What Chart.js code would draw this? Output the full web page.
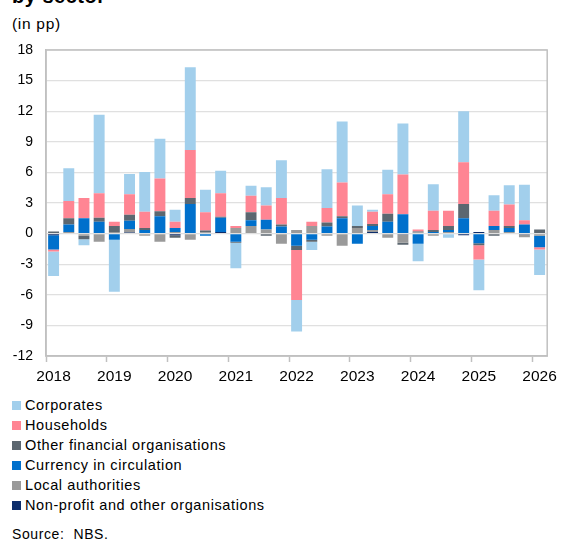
<!DOCTYPE html>
<html>
<head>
<meta charset="utf-8">
<script src="https://cdn.jsdelivr.net/npm/chart.js@4.4.1/dist/chart.umd.min.js"></script>
<style>
  body { margin: 0; background: #fff; font-family: "Liberation Sans", Arial, sans-serif; color: #000; }
  #wrap { position: relative; width: 562px; height: 541px; overflow: hidden; }
  #titulo { position: absolute; left: 12px; top: -14px; font-size: 20px; line-height: 20px; font-weight: bold; letter-spacing: 0.5px; }
  #unidad { position: absolute; left: 12px; top: 15px; font-size: 15.5px; letter-spacing: 0.7px; }
  #caja { position: absolute; left: 0; top: 0; width: 562px; height: 388px; }
  #leyenda { position: absolute; left: 12px; top: 395px; font-size: 14.5px; letter-spacing: 0.6px; }
  .item { height: 20px; line-height: 20px; white-space: nowrap; }
  .item span { display: inline-block; width: 9px; height: 9px; margin-right: 4px; vertical-align: 0px; }
  #fuente { position: absolute; left: 12px; top: 526px; font-size: 14px; letter-spacing: 0.6px; }
</style>
</head>
<body>
<div id="wrap">
  <div id="titulo">by sector</div>
  <div id="unidad">(in pp)</div>
  <div id="caja"><canvas id="grafica"></canvas></div>
  <div id="leyenda"></div>
  <div id="fuente">Source:&nbsp; NBS.</div>
</div>
<script>
// quarters 2018Q1 .. 2026Q1
const trimestres = [];
for (let a = 2018; a <= 2026; a++) {
    for (let q = 1; q <= 4; q++) {
        if (a === 2026 && q > 1) break;
        trimestres.push(a + "Q" + q);
    }
}

const corporates = [-2.4, 3.2, -0.6, 7.7, -5.1, 2.0, 3.9, 3.9, 1.2, 8.1, 2.2, 2.2, -2.5, 1.0, 1.8, 3.7,
    -3.1, -0.8, 3.8, 6.0, 2.0, 0.2, 2.4, 5.0, -1.7, 2.6, -0.4, 5.0, -3.0, 1.5, 1.9, 3.5, -2.5];
const households = [-0.2, 1.7, 2.0, 2.4, 0.4, 2.0, 1.6, 3.2, 0.6, 4.7, 1.8, 2.3, 0.2, 1.6, 1.4, 2.6,
    -4.9, 0.4, 1.4, 3.3, 0, 1.2, 1.9, 3.9, 0.2, 1.9, 1.5, 4.1, -1.4, 1.5, 2.1, 0.4, -0.2];
const otrasFin = [0.2, 0.6, -0.35, 0.4, 0.6, 0.6, 0.2, 0.5, -0.25, 0.6, 0.2, 0.1, -0.1, 0.8, -0.2, 0.2,
    -0.4, -0.2, 0.4, 0.2, 0.2, 0.2, 0.8, -0.2, 0.1, 0.2, 0.4, 1.4, -0.2, -0.2, 0.2, 0, 0.4];
const currency = [-1.4, 0.75, 1.5, 1.15, -0.6, 0.8, 0.35, 1.7, 0.4, 2.9, -0.2, 1.4, -0.8, 0.55, 0.95, 0.7,
    -1.2, -0.6, 0.7, 1.5, -1.0, 0.4, 1.15, 1.9, -1.0, 0.15, 0.2, 1.5, -0.95, 0.4, 0.4, 0.9, -1.15];
const localAuth = [0, 0.15, -0.2, -0.8, 0.15, 0.35, -0.2, -0.8, 0.15, -0.6, 0.1, 0, 0.55, 0.75, 0.4, -1.0,
    0.35, 0.75, -0.2, -1.2, 0.55, 0.2, -0.4, -0.8, 0.1, -0.2, 0.15, 0, 0, 0.35, 0.15, -0.25, -0.2];
const nonProfit = [-0.15, 0, 0, 0, 0, 0.1, 0, 0, -0.15, 0, 0, 0.15, 0, 0, 0, 0,
    0, 0, 0, 0, 0, 0.15, 0, -0.1, 0, 0, 0, -0.15, 0.15, 0, 0, -0.1, 0];

const ticksY = [-12, -9, -6, -3, 0, 3, 6, 9, 12, 15, 18];

// stacking order: first dataset sits next to zero
const series = [
    { label: "Non-profit and other organisations", data: nonProfit, color: "#0c2d6b" },
    { label: "Local authorities", data: localAuth, color: "#9a9a9a" },
    { label: "Currency in circulation", data: currency, color: "#0070cc" },
    { label: "Other financial organisations", data: otrasFin, color: "#5c6770" },
    { label: "Households", data: households, color: "#ff8593" },
    { label: "Corporates", data: corporates, color: "#a2cfec" }
];

const marco = {
    id: "marco",
    afterDraw(chart) {
        const a = chart.chartArea;
        const ctx = chart.ctx;
        ctx.save();
        ctx.strokeStyle = "#c0c0c0";
        ctx.lineWidth = 1.5;
        ctx.strokeRect(a.left, a.top, a.right - a.left, a.bottom - a.top);
        ctx.restore();
    }
};

Chart.defaults.font.family = '"Liberation Sans", Arial, sans-serif';
Chart.defaults.color = "#000";

const grafica = new Chart(document.getElementById("grafica"), {
    type: "bar",
    data: {
        labels: trimestres,
        datasets: series.map(s => ({
            label: s.label,
            data: s.data,
            backgroundColor: s.color,
            borderWidth: 0,
            barPercentage: 0.72,
            categoryPercentage: 1
        }))
    },
    options: {
        responsive: true,
        maintainAspectRatio: false,
        animation: false,
        layout: { padding: { top: 50, right: 10, left: 0, bottom: 0 } },
        plugins: { legend: { display: false }, tooltip: { enabled: false } },
        scales: {
            x: {
                stacked: true,
                offset: true,
                grid: {
                    offset: true,
                    drawOnChartArea: false,
                    tickLength: 6,
                    tickWidth: 1.5,
                    tickColor: (c) => (c.index % 4 === 0 ? "#c0c0c0" : "rgba(0,0,0,0)")
                },
                border: { color: "#c0c0c0", width: 1.5 },
                ticks: {
                    autoSkip: false,
                    maxRotation: 0,
                    padding: 5,
                    font: { size: 15.5 },
                    callback: function (v, i) {
                        return i % 4 === 0 ? trimestres[i].slice(0, 4) : "";
                    }
                },
                afterFit: (s) => { s.height = 32; }
            },
            y: {
                stacked: true,
                min: -12,
                max: 18,
                afterBuildTicks: (s) => { s.ticks = ticksY.map(v => ({ value: v })); },
                grid: { color: "#e0e0e0", lineWidth: 1.2, drawTicks: false },
                border: { color: "#c0c0c0", width: 1.5 },
                ticks: { padding: 13, font: { size: 14 } },
                afterFit: (s) => { s.width = 46; }
            }
        }
    },
    plugins: [marco]
});

// legend in the original order (top of stack first)
const leyenda = document.getElementById("leyenda");
series.slice().reverse().forEach(s => {
    const d = document.createElement("div");
    d.className = "item";
    d.innerHTML = '<span style="background:' + s.color + '"></span>' + s.label;
    leyenda.appendChild(d);
});
</script>
</body>
</html>
